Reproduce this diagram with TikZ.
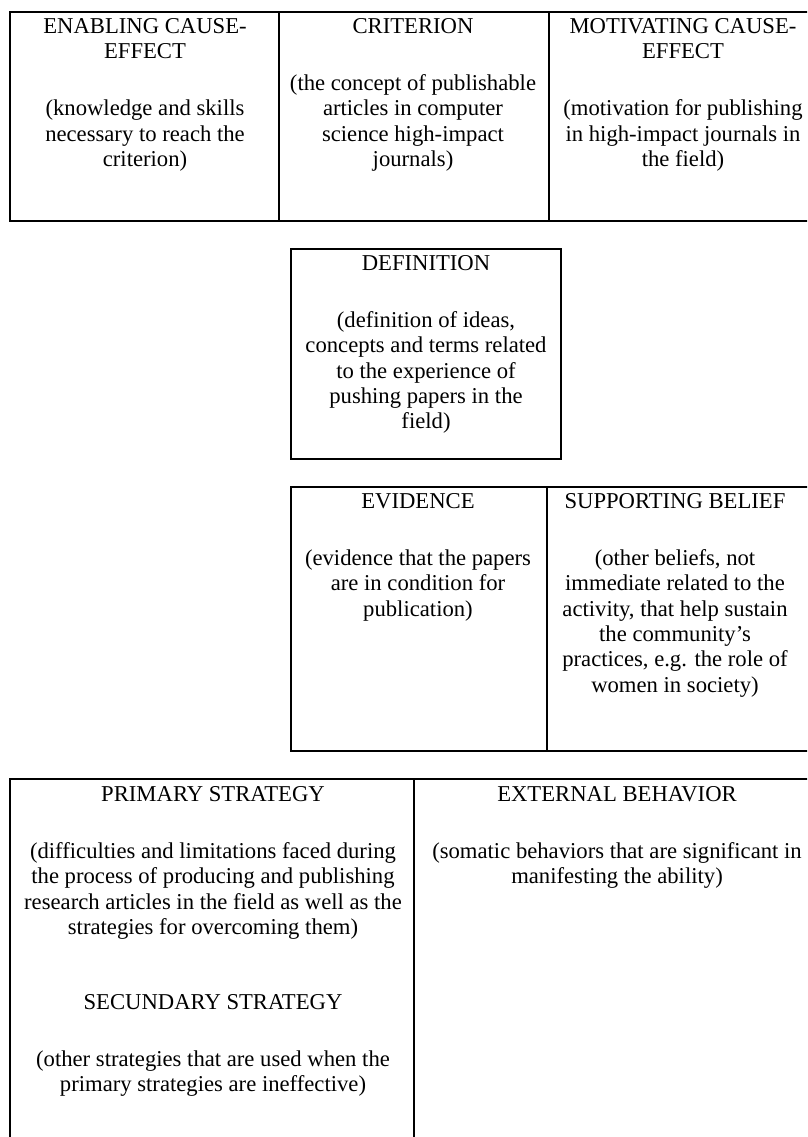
\documentclass[tikz,border=0pt]{standalone}
\usepackage{fontspec}
\setmainfont{Liberation Serif}
\tikzset{
  cell/.style={anchor=north, inner sep=0pt, align=center,
    font=\fontsize{17pt}{19pt}\selectfont},
  rule/.style={line width=1.1pt}
}
\newcommand{\titlegap}{\\[24pt]}

\begin{document}
\begin{tikzpicture}[x=0.75pt, y=-0.75pt]
  \useasboundingbox (0,0) rectangle (807,1137);
  \clip (0,0) rectangle (807,1137);

  % top row
  \draw[rule] (815,12) -- (10,12) -- (10,221) -- (815,221);
  \draw[rule] (279,12) -- (279,221) (549,12) -- (549,221);
  \node[cell] (enabling) at (145,18) {ENABLING CAUSE-\\EFFECT\titlegap
    (knowledge and skills\\necessary to reach the\\criterion)};
  \node[cell] (criterion) at (413,18) {CRITERION\titlegap
    (the concept of publishable\\articles in computer\\science high-impact\\journals)};
  \node[cell] (motivating) at (683,18) {MOTIVATING CAUSE-\\EFFECT\titlegap
    (motivation for publishing\\in high-impact journals in\\the field)};

  % definition
  \draw[rule] (291,249) rectangle (561,459);
  \node[cell] (definition) at (426,255) {DEFINITION\titlegap
    (definition of ideas,\\concepts and terms related\\to the experience of\\pushing papers in the\\field)};

  % evidence row
  \draw[rule] (815,487) -- (291,487) -- (291,751) -- (815,751) (547,487) -- (547,751);
  \node[cell] (evidence) at (418,493) {EVIDENCE\titlegap
    (evidence that the papers\\are in condition for\\publication)};
  \node[cell] (belief) at (675,493) {SUPPORTING BELIEF\titlegap
    (other beliefs, not\\immediate related to the\\activity, that help sustain\\the community’s\\practices, e.g. the role of\\women in society)};

  % bottom row
  \draw[rule] (10,1145) -- (10,779) -- (815,779) (414,779) -- (414,1145);
  \node[cell] (primary) at (213,786) {PRIMARY STRATEGY\titlegap
    (difficulties and limitations faced during\\the process of producing and publishing\\research articles in the field as well as the\\strategies for overcoming them)};
  \node[cell] (secundary) at (213,994) {SECUNDARY STRATEGY\titlegap
    (other strategies that are used when the\\primary strategies are ineffective)};
  \node[cell] (external) at (617,786) {EXTERNAL BEHAVIOR\titlegap
    (somatic behaviors that are significant in\\manifesting the ability)};
\end{tikzpicture}
\end{document}
